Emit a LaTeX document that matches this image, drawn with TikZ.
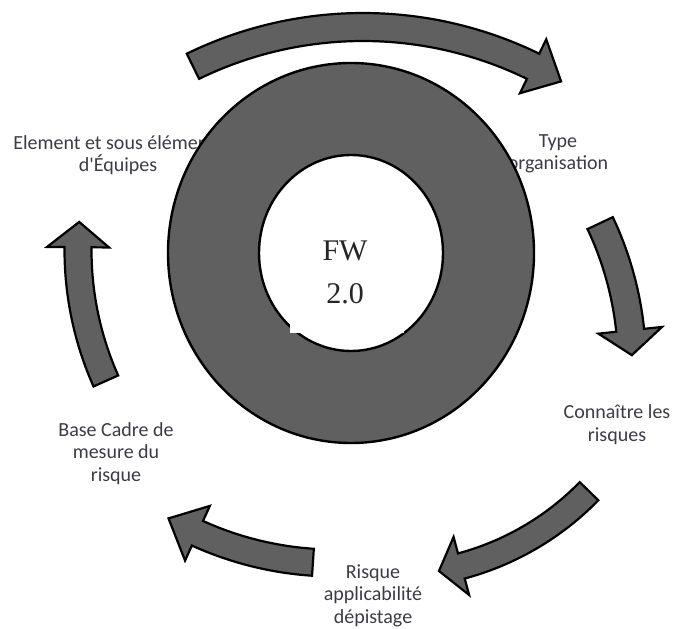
\documentclass[tikz,border=0pt]{standalone}
\usepackage{fontspec}
\setmainfont{Carlito}[Ligatures=TeXOff]
\newfontfamily\fwfont{Liberation Serif}
\definecolor{ringgray}{RGB}{96,96,96}
\definecolor{labelcol}{RGB}{60,60,72}
\tikzset{
  blockarr/.style={fill=ringgray, draw=black, line width=2.2pt},
  ringstyle/.style={fill=ringgray, draw=black, line width=2.4pt, even odd rule},
  lbl/.style={font=\fontsize{20}{22.5}\selectfont, text=labelcol, align=center, anchor=base, inner sep=0pt},
  fwtext/.style={font=\fwfont\fontsize{30}{43}\selectfont, text=black!85, align=center, anchor=base, inner sep=0pt}
}
% #1 cx, #2 cy, #3 R, #4 shaft width, #5 head half width, #6 tail angle, #7 head base angle, #8 tip angle
\newcommand\blockarrow[8]{%
  \draw[blockarr]
    plot[domain=#6:#7,samples=60] ({#1+(#3+#4/2)*cos(\x)},{#2-(#3+#4/2)*sin(\x)})
    -- ({#1+(#3+#5)*cos(#7)},{#2-(#3+#5)*sin(#7)})
    -- ({#1+#3*cos(#8)},{#2-#3*sin(#8)})
    -- ({#1+(#3-#5)*cos(#7)},{#2-(#3-#5)*sin(#7)})
    -- plot[domain=#7:#6,samples=60] ({#1+(#3-#4/2)*cos(\x)},{#2-(#3-#4/2)*sin(\x)})
    -- cycle;}
\begin{document}
\begin{tikzpicture}[x=1pt,y=-1pt]
\useasboundingbox (0,0) rectangle (676,628);
\fill[white] (0,0) rectangle (676,628);
% labels (drawn first: the ring covers parts of them); anchor=base is the last line
\node[lbl] (elem) at (118,172) {Element et sous éléments\\d'Équipes};
\node[lbl] (type) at (558,170) {Type\\organisation};
\node[lbl] (conn) at (617,441) {Connaître les\\risques};
\node[lbl] (base) at (116,481) {Base Cadre de\\mesure du\\risque};
\node[lbl] (risq) at (373,623) {Risque\\applicabilité\\dépistage};
% ring
\coordinate (c) at (351,253);
\draw[ringstyle] (c) ellipse [x radius=183, y radius=190] (c) ellipse [x radius=92, y radius=98];
\fill[white] (290,312) rectangle (404,333);
\node[fwtext] (fw) at (345,303) {FW\\2.0};
% arrows
\blockarrow{363}{415}{388}{28}{30}{116}{64}{59.3}
\blockarrow{300}{365}{332}{28}{32}{25.3}{6}{1.7}
\blockarrow{389}{296}{279.5}{26}{30}{-44.3}{-75}{-79.7}
\blockarrow{335}{230}{333}{27}{30}{-93.8}{-114.4}{-120}
\blockarrow{400}{250}{322}{27}{31}{204}{179.5}{175}
\end{tikzpicture}
\end{document}
